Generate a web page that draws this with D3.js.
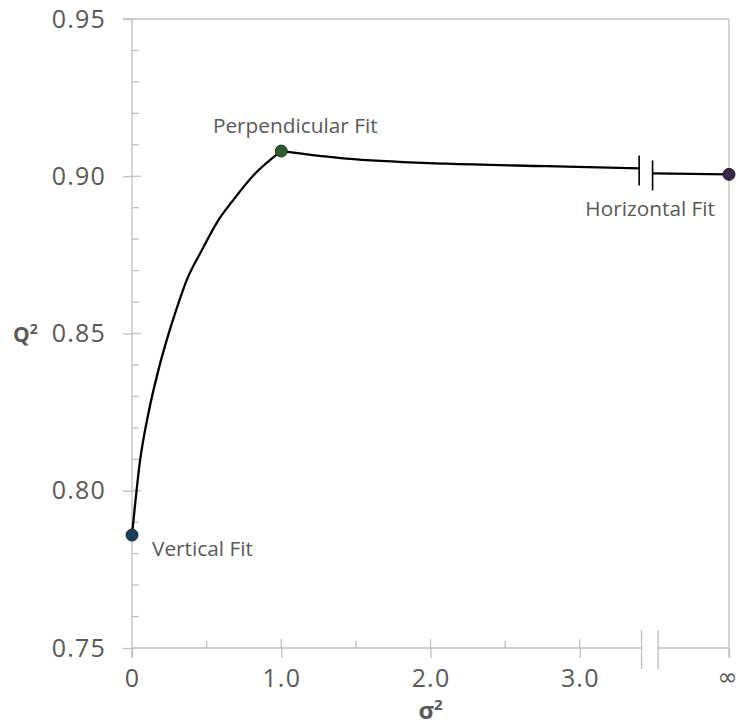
<!DOCTYPE html>
<html><head><meta charset="utf-8">
<script src="https://cdn.jsdelivr.net/npm/d3@7"></script>
<style>body{margin:0;background:#fff}svg{display:block}</style>
</head><body>
<script>
// ---- data ----
const sigma2 = [0, 0.054, 0.109, 0.176, 0.232, 0.288, 0.366, 0.467, 0.578, 0.668, 0.824, 0.936, 1.0];
const q2     = [0.7859, 0.8096, 0.8244, 0.8382, 0.8478, 0.8563, 0.8669, 0.8764, 0.886, 0.8918, 0.9008, 0.9056, 0.908];
const sigma2Tail = [1.0, 1.438, 2.108, 2.778, 3.398];
const q2Tail     = [0.908, 0.9056, 0.9040, 0.9032, 0.9025];
const sigma2Inf = [3.488, 4];
const q2Inf     = [0.9009, 0.9006];
const fitNames  = ["Vertical Fit", "Perpendicular Fit", "Horizontal Fit"];
const fitSigma2 = [0, 1.0, 4];
const fitQ2     = [0.7859, 0.908, 0.9006];
const xTickValues = [0, 1, 2, 3, 4];
const xTickLabels = ["0", "1.0", "2.0", "3.0", "\u221E"];
const xMinorTicks = [0.5, 1.5, 2.5];
const yTickValues = [0.75, 0.80, 0.85, 0.90, 0.95];
const yMinorTicks = [0.76,0.77,0.78,0.79,0.81,0.82,0.83,0.84,0.86,0.87,0.88,0.89,0.91,0.92,0.93,0.94];
const axisBreak = [3.414, 3.525];
const lineBreak = [3.398, 3.488];

// ---- layout ----
const W = 738, H = 725;
const x = d3.scaleLinear().domain([0, 4]).range([132, 729]);
const y = d3.scaleLinear().domain([0.75, 0.95]).range([648, 19]);
const grey = "#bfbfbf", textCol = "#595959";
const FONT = "'Open Sans', sans-serif";
const svg = d3.select("body").append("svg").attr("width", W).attr("height", H);
const gl = sel => sel.attr("stroke", grey).attr("stroke-width", 1.3);

// frame: top and right borders
svg.append("line").attr("x1", x(0) - 9).attr("x2", x(4)).attr("y1", y(0.95)).attr("y2", y(0.95)).call(gl);
svg.append("line").attr("x1", x(4)).attr("x2", x(4)).attr("y1", y(0.95)).attr("y2", y(0.75) + 10).call(gl);
// y axis line
svg.append("line").attr("x1", x(0)).attr("x2", x(0)).attr("y1", y(0.95)).attr("y2", y(0.75) + 10).call(gl);
// x axis line with break
svg.append("line").attr("x1", x(0)).attr("x2", x(axisBreak[0])).attr("y1", y(0.75)).attr("y2", y(0.75)).call(gl);
svg.append("line").attr("x1", x(axisBreak[1])).attr("x2", x(4)).attr("y1", y(0.75)).attr("y2", y(0.75)).call(gl);
svg.selectAll(".xbrk").data(axisBreak).enter().append("line")
  .attr("x1", d => x(d)).attr("x2", d => x(d)).attr("y1", y(0.75) - 18).attr("y2", y(0.75) + 21).call(gl);

// y axis with labels
const yAxis = svg.append("g").attr("transform", `translate(${x(0)},0)`)
  .call(d3.axisLeft(y).tickValues(yTickValues).tickFormat(d3.format(".2f")).tickSize(9).tickPadding(17));
yAxis.select(".domain").remove();
yAxis.selectAll(".tick line").call(gl);
yAxis.selectAll("text").attr("fill", textCol).style("font-family", FONT)
  .style("font-size", "25px").style("letter-spacing", "1.2px");
svg.selectAll(".ymaj").data(yTickValues.slice(1, 4)).enter().append("line")
  .attr("x1", x(0)).attr("x2", x(0) + 9).attr("y1", d => y(d)).attr("y2", d => y(d)).call(gl);
svg.selectAll(".ymin").data(yMinorTicks).enter().append("line")
  .attr("x1", x(0)).attr("x2", x(0) + 7).attr("y1", d => y(d)).attr("y2", d => y(d)).call(gl);

// x axis with labels
const xAxis = svg.append("g").attr("transform", `translate(0,${y(0.75)})`)
  .call(d3.axisBottom(x).tickValues(xTickValues).tickFormat((d, i) => xTickLabels[i]).tickSize(10).tickPadding(11));
xAxis.select(".domain").remove();
xAxis.selectAll(".tick line").call(gl);
xAxis.selectAll("text").attr("fill", textCol).style("font-family", FONT)
  .style("font-size", "25px").style("letter-spacing", "1.2px");
xAxis.selectAll("text").filter(d => d === 4)
  .style("font-family", "'DejaVu Sans', sans-serif").style("font-size", "24px").style("letter-spacing", "0px")
  .attr("text-anchor", "end").attr("x", 8).attr("dy", "0.66em");
svg.selectAll(".xmajUp").data(xTickValues.slice(1, 4)).enter().append("line")
  .attr("x1", d => x(d)).attr("x2", d => x(d)).attr("y1", y(0.75) - 9).attr("y2", y(0.75)).call(gl);
svg.selectAll(".xmin").data(xMinorTicks).enter().append("line")
  .attr("x1", d => x(d)).attr("x2", d => x(d)).attr("y1", y(0.75) - 7).attr("y2", y(0.75)).call(gl);

// axis titles
const qT = svg.append("text").attr("x", 13).attr("y", y(0.85) + 8.5)
  .attr("fill", textCol).style("font-family", FONT).style("font-weight", "bold").style("font-size", "21px");
qT.append("tspan").text("Q");
qT.append("tspan").text("2").style("font-size", "14px").attr("dy", -8);
const sT = svg.append("text").attr("x", (x(0) + x(4)) / 2).attr("y", 719).attr("text-anchor", "middle")
  .attr("fill", textCol).style("font-family", FONT).style("font-weight", "bold").style("font-size", "24px");
sT.append("tspan").text("\u03C3");
sT.append("tspan").text("2").style("font-size", "15px").attr("dy", -9);

// data lines
const line = d3.line().x(d => x(d[0])).y(d => y(d[1])).curve(d3.curveMonotoneX);
const lineStyle = sel => sel.attr("fill", "none").attr("stroke", "#000").attr("stroke-width", 2.3).attr("stroke-linejoin", "round");
svg.append("path").datum(d3.zip(sigma2, q2)).attr("d", line).call(lineStyle);
svg.append("path").datum(d3.zip(sigma2Tail, q2Tail)).attr("d", line).call(lineStyle);
svg.append("path").datum(d3.zip(sigma2Inf, q2Inf)).attr("d", d3.line().x(d => x(d[0])).y(d => y(d[1]))).call(lineStyle);
// break marks on data line
const brkY = [q2Tail[q2Tail.length - 1], q2Inf[0]];
svg.selectAll(".lbrk").data(lineBreak).enter().append("line")
  .attr("x1", d => x(d)).attr("x2", d => x(d))
  .attr("y1", (d, i) => y(brkY[i]) - 13).attr("y2", (d, i) => y(brkY[i]) + 17)
  .attr("stroke", "#000").attr("stroke-width", 1.6);

// markers
const fitFill = ["#173e5b", "#2f5a2c", "#3a2946"];
const fitStroke = ["#0f2c42", "#1d3b1c", "#25192f"];
svg.selectAll(".fit").data(fitNames).enter().append("circle")
  .attr("cx", (d, i) => x(fitSigma2[i])).attr("cy", (d, i) => y(fitQ2[i])).attr("r", 6)
  .attr("fill", (d, i) => fitFill[i]).attr("stroke", (d, i) => fitStroke[i]).attr("stroke-width", 1);

// annotations
const lblDx = [20, 14, -14], lblDy = [21, -18, 42], lblAnchor = ["start", "middle", "end"];
svg.selectAll(".fitlbl").data(fitNames).enter().append("text")
  .attr("x", (d, i) => x(fitSigma2[i]) + lblDx[i]).attr("y", (d, i) => y(fitQ2[i]) + lblDy[i])
  .attr("text-anchor", (d, i) => lblAnchor[i]).text(d => d)
  .attr("fill", textCol).style("font-family", FONT).style("font-size", "20.8px");
</script>
</body></html>
